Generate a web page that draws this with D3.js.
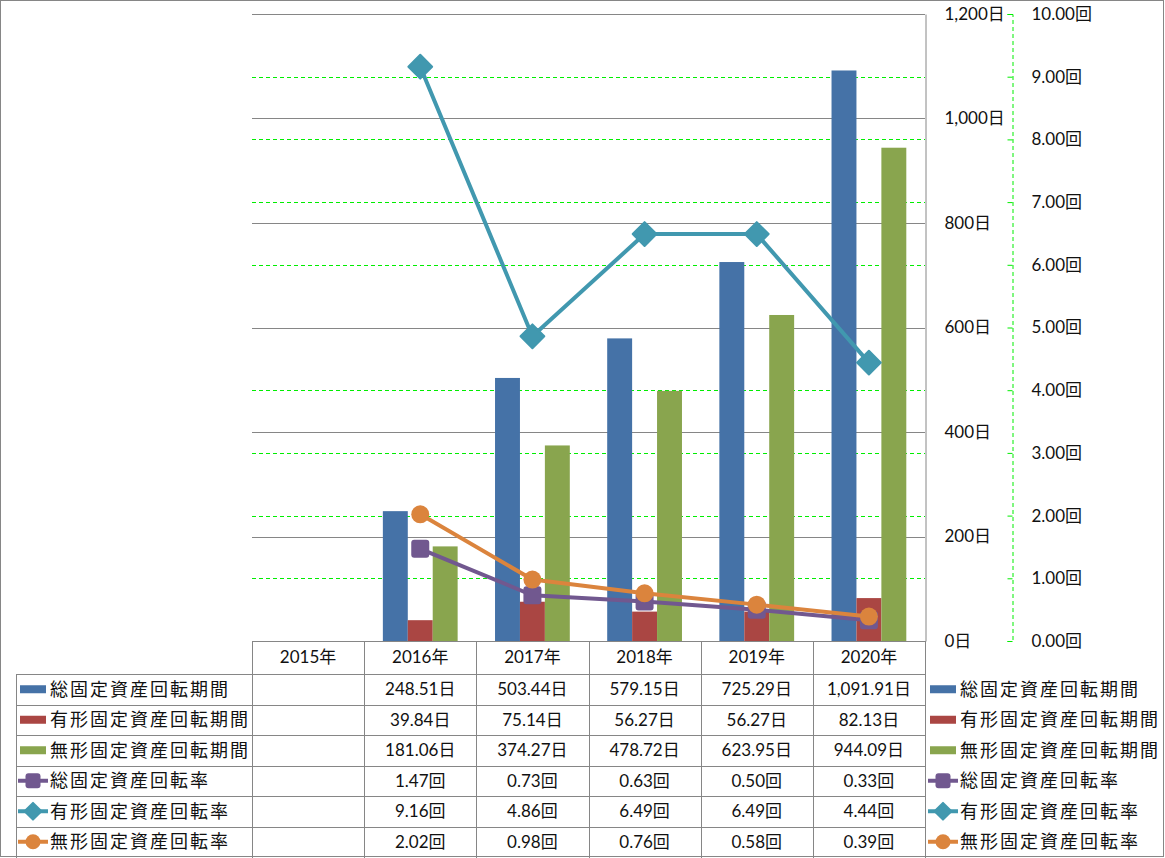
<!DOCTYPE html>
<html>
<head>
<meta charset="utf-8">
<script src="https://cdn.jsdelivr.net/npm/d3@7"></script>
<style>
  body { margin: 0; background: #fff; }
  text { font-family: Lato, "Noto Sans CJK JP", sans-serif; fill: #111; }
  .jp { font-family: "Noto Sans CJK JP", sans-serif; letter-spacing: 2px; }
</style>
</head>
<body>
<script>
// data
var years = ["2015年", "2016年", "2017年", "2018年", "2019年", "2020年"];
var totalDays = [null, 248.51, 503.44, 579.15, 725.29, 1091.91];
var tangibleDays = [null, 39.84, 75.14, 56.27, 56.27, 82.13];
var intangibleDays = [null, 181.06, 374.27, 478.72, 623.95, 944.09];
var totalRate = [null, 1.47, 0.73, 0.63, 0.50, 0.33];
var tangibleRate = [null, 9.16, 4.86, 6.49, 6.49, 4.44];
var intangibleRate = [null, 2.02, 0.98, 0.76, 0.58, 0.39];
var dayTicks = [0, 200, 400, 600, 800, 1000, 1200];
var rateTicks = [0, 1, 2, 3, 4, 5, 6, 7, 8, 9, 10];

var barSeries = [
  {name: "総固定資産回転期間", values: totalDays, color: "#4572A7"},
  {name: "有形固定資産回転期間", values: tangibleDays, color: "#AA4643"},
  {name: "無形固定資産回転期間", values: intangibleDays, color: "#89A54E"}
];
var lineSeries = [
  {name: "総固定資産回転率", values: totalRate, color: "#71588F", marker: "square"},
  {name: "有形固定資産回転率", values: tangibleRate, color: "#4198AF", marker: "diamond"},
  {name: "無形固定資産回転率", values: intangibleRate, color: "#DB843D", marker: "circle"}
];

// plot area bounds (note: "top" is reserved on window, so use plot* names)
var W = 1165, H = 858;
var plotL = 252, plotR = 925, plotT = 14, plotB = 641;
var gridColor = "#868686";

var svg = d3.select("body").append("svg")
    .attr("width", W)
    .attr("height", H);

var x = d3.scaleBand().domain(years).range([plotL, plotR]);
var bw = x.bandwidth();
var xInner = d3.scaleBand().domain(barSeries.map(function(s) { return s.name; }))
    .range([bw / 6, bw * 5 / 6]);
var yDays = d3.scaleLinear().domain([0, 1200]).range([plotB, plotT]);
var yRate = d3.scaleLinear().domain([0, 10]).range([plotB, plotT]);

// green dashed gridlines (rate axis)
svg.append("g").selectAll("line")
    .data(rateTicks.slice(1, -1))
    .enter().append("line")
    .attr("x1", plotL).attr("x2", plotR)
    .attr("y1", function(d) { return Math.round(yRate(d)) + 0.5; })
    .attr("y2", function(d) { return Math.round(yRate(d)) + 0.5; })
    .attr("stroke", "#00ee00")
    .attr("stroke-dasharray", "4,3");

// gray gridlines (days axis)
svg.append("g").selectAll("line")
    .data(dayTicks.slice(1))
    .enter().append("line")
    .attr("x1", plotL).attr("x2", plotR)
    .attr("y1", function(d) { return Math.round(yDays(d)) + 0.5; })
    .attr("y2", function(d) { return Math.round(yDays(d)) + 0.5; })
    .attr("stroke", gridColor);

// bars
barSeries.forEach(function(s) {
  svg.append("g").selectAll("rect")
      .data(years.map(function(y, i) { return {year: y, v: s.values[i]}; })
        .filter(function(d) { return d.v != null; }))
      .enter().append("rect")
      .attr("x", function(d) { return x(d.year) + xInner(s.name); })
      .attr("width", xInner.bandwidth())
      .attr("y", function(d) { return yDays(d.v); })
      .attr("height", function(d) { return plotB - yDays(d.v); })
      .attr("fill", s.color);
});

// days axis (on the right of the plot)
var dayAxis = svg.append("g")
    .attr("transform", "translate(" + (plotR + 0.5) + ",0)")
    .call(d3.axisRight(yDays).tickValues(dayTicks).tickSize(0).tickPadding(19)
      .tickFormat(function(d) { return d3.format(",")(d) + "日"; }));
dayAxis.select(".domain").attr("stroke", gridColor);
dayAxis.selectAll("text").attr("font-size", 17).attr("font-family", null).attr("fill", null);

// rate axis
var rateAxis = svg.append("g")
    .attr("transform", "translate(1012.5,0)")
    .call(d3.axisRight(yRate).tickValues(rateTicks).tickSize(-5).tickPadding(19)
      .tickFormat(function(d) { return d3.format(".2f")(d) + "回"; }));
rateAxis.select(".domain").attr("stroke", "#00ee00").attr("stroke-dasharray", "4,3");
rateAxis.selectAll(".tick line").attr("stroke", "#00ee00");
rateAxis.selectAll("text").attr("font-size", 17).attr("font-family", null).attr("fill", null);

// marker drawing
function drawMarker(g, type, color, size) {
  var m;
  if (type === "square") {
    m = g.append("rect")
      .attr("x", -size / 2).attr("y", -size / 2)
      .attr("width", size).attr("height", size)
      .attr("rx", 3);
  } else if (type === "diamond") {
    var h = size * 0.7;
    m = g.append("path")
      .attr("d", "M0," + (-h) + "L" + h + ",0L0," + h + "L" + (-h) + ",0Z")
      .attr("stroke", color).attr("stroke-width", 2).attr("stroke-linejoin", "round");
  } else {
    m = g.append("circle").attr("r", size / 2);
  }
  m.attr("fill", color);
}

// lines
var line = d3.line()
    .defined(function(d) { return d.v != null; })
    .x(function(d) { return x(d.year) + bw / 2; })
    .y(function(d) { return yRate(d.v); });

lineSeries.forEach(function(s) {
  var pts = years.map(function(y, i) { return {year: y, v: s.values[i]}; });
  svg.append("path")
      .datum(pts)
      .attr("d", line)
      .attr("fill", "none")
      .attr("stroke", s.color)
      .attr("stroke-width", 4)
      .attr("stroke-linejoin", "round");
  svg.append("g").selectAll("g")
      .data(pts.filter(function(d) { return d.v != null; }))
      .enter().append("g")
      .attr("transform", function(d) { return "translate(" + (x(d.year) + bw / 2) + "," + yRate(d.v) + ")"; })
      .each(function() { drawMarker(d3.select(this), s.marker, s.color, s.marker === "diamond" ? 17 : 18); });
});

// data table
var headH = 33, rowH = 30.5;
var rowTop = plotB + headH;
var tbl = svg.append("g");
var allRows = barSeries.map(function(s) { return {s: s, kind: "bar", fmt: function(v) { return d3.format(",.2f")(v) + "日"; }}; })
  .concat(lineSeries.map(function(s) { return {s: s, kind: "line", fmt: function(v) { return d3.format(".2f")(v) + "回"; }}; }));

function hline(y, x1, x2) {
  tbl.append("line").attr("x1", x1).attr("x2", x2)
    .attr("y1", Math.round(y) + 0.5).attr("y2", Math.round(y) + 0.5)
    .attr("stroke", gridColor);
}
function vline(xx, y1, y2) {
  tbl.append("line").attr("x1", Math.round(xx) + 0.5).attr("x2", Math.round(xx) + 0.5)
    .attr("y1", y1).attr("y2", y2)
    .attr("stroke", gridColor);
}
hline(plotB, plotL, plotR);
allRows.forEach(function(r, i) { hline(rowTop + i * rowH, 16, plotR); });
vline(16, rowTop, H);
years.forEach(function(y) { vline(x(y), plotB, H); });
vline(plotR, plotB, H);

tbl.selectAll("text.year")
    .data(years)
    .enter().append("text")
    .attr("class", "year")
    .attr("x", function(d) { return x(d) + bw / 2; })
    .attr("y", plotB + headH / 2)
    .attr("dy", "0.35em")
    .attr("text-anchor", "middle")
    .attr("font-size", 17)
    .text(function(d) { return d; });

allRows.forEach(function(r, i) {
  var cy = rowTop + i * rowH + rowH / 2;
  tbl.append("g").selectAll("text")
    .data(years.map(function(y, j) { return {year: y, v: r.s.values[j]}; })
      .filter(function(d) { return d.v != null; }))
    .enter().append("text")
    .attr("x", function(d) { return x(d.year) + bw / 2; })
    .attr("y", cy)
    .attr("dy", "0.35em")
    .attr("text-anchor", "middle")
    .attr("font-size", 17)
    .text(function(d) { return r.fmt(d.v); });

  // legend keys, left (inside table) and right
  [{sx: 18, tx: 50}, {sx: 928, tx: 960}].forEach(function(p) {
    var g = svg.append("g").attr("transform", "translate(" + p.sx + "," + cy + ")");
    if (r.kind === "bar") {
      g.append("rect").attr("x", 2).attr("y", -4).attr("width", 26).attr("height", 8).attr("fill", r.s.color);
    } else {
      g.append("line").attr("x1", 0).attr("x2", 30).attr("stroke", r.s.color).attr("stroke-width", 4);
      var mg = g.append("g").attr("transform", "translate(15,0)");
      drawMarker(mg, r.s.marker, r.s.color, r.s.marker === "diamond" ? 12 : 15);
    }
    g.append("text")
      .attr("class", "jp")
      .attr("x", p.tx - p.sx)
      .attr("dy", "0.35em")
      .attr("font-size", 18)
      .text(r.s.name);
  });
});

// outer border
svg.append("rect")
    .attr("x", 0.5).attr("y", 0.5)
    .attr("width", W - 2).attr("height", H - 2)
    .attr("fill", "none")
    .attr("stroke", gridColor);
</script>
</body>
</html>
